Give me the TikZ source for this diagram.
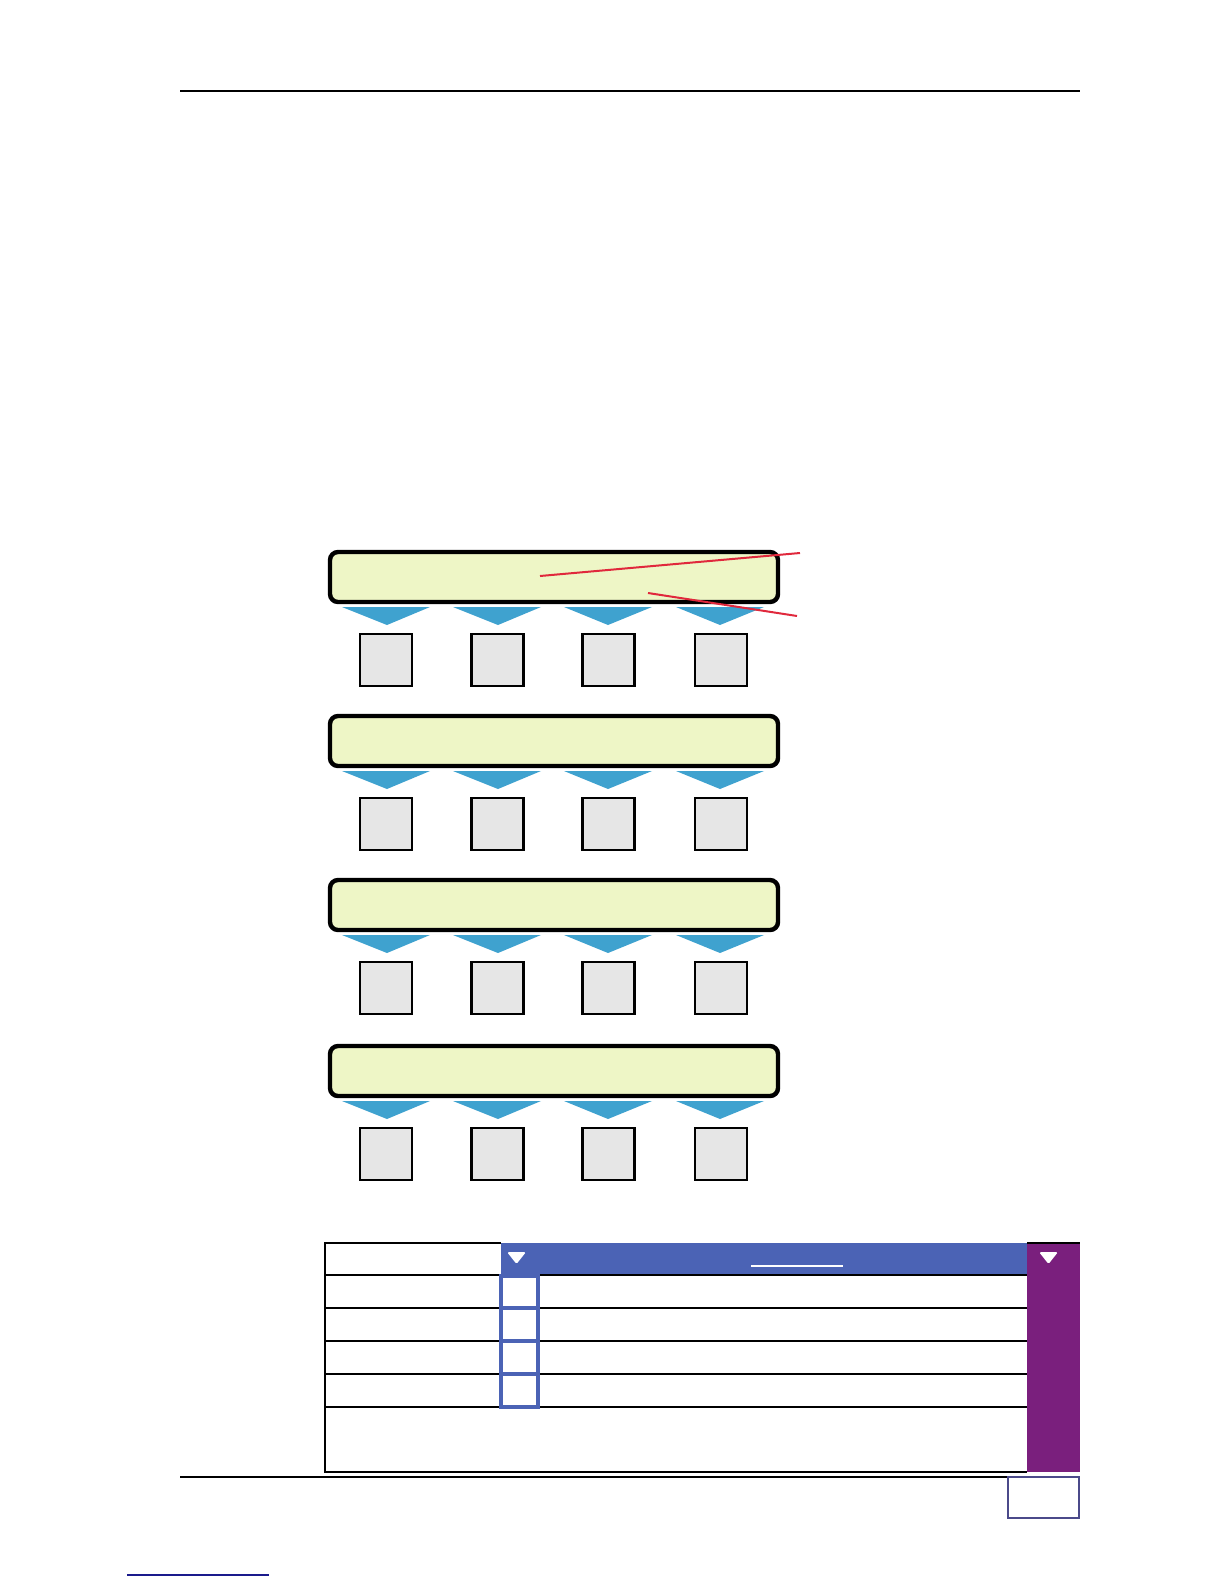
\documentclass[tikz,border=0pt]{standalone}
\usetikzlibrary{calc}
\definecolor{barfill}{HTML}{EEF6C6}
\definecolor{trifill}{HTML}{3FA2CF}
\definecolor{boxfill}{HTML}{E6E6E6}
\definecolor{hdrblue}{HTML}{4B63B5}
\definecolor{purp}{HTML}{7A1F7D}
\definecolor{redl}{HTML}{E0283C}
\definecolor{linkblue}{HTML}{1A1A8C}
\definecolor{pagebox}{HTML}{4B4A8A}
\begin{document}
\begin{tikzpicture}[x=0.5pt,y=-0.5pt,
  barbox/.style={draw=black,line width=2.2pt,fill=barfill,rounded corners=4pt,
    minimum width=224pt,minimum height=25pt,inner sep=0pt,outer sep=0pt},
  smallbox/.style={draw=black,line width=1.2pt,fill=boxfill,
    minimum width=26pt,minimum height=26pt,inner sep=0pt,outer sep=0pt},
  tri/.style={fill=trifill},
  redline/.style={draw=redl,line width=1pt},
  rowline/.style={draw=black,line width=0.6pt},
  bluecell/.style={draw=hdrblue,line width=1.6pt}]
\useasboundingbox (0,0) rectangle (1224,1584);
% header / footer rules
\coordinate (hl) at (180,91);
\coordinate (hr) at (1080,91);
\draw[line width=1pt] (hl) -- (hr);
\coordinate (fl) at (180,1477);
\coordinate (fr) at (1080,1477);
\draw[line width=0.6pt] (fl) -- (fr);
% rows of bars, triangles, boxes
\foreach \r/\t in {1/551,2/715,3/879,4/1045}{
  \node[barbox] (bar\r) at (554,\t+26) {};
  \foreach \i/\a/\b/\c in {1/342/430/387,2/453/541/498,3/564/652/608,4/676/764/720}{
    \fill[tri] (\a,\t+56) -- (\b,\t+56) -- (\c,\t+74) -- cycle;
  }
  \foreach \i/\cx in {1/386,2/497.5,3/608.5,4/721}{
    \node[smallbox] (box\r-\i) at (\cx,\t+109) {};
  }
}
% red callout lines
\coordinate (r1a) at (540,576);
\coordinate (r1b) at (800,553);
\coordinate (r2a) at (648,593);
\coordinate (r2b) at (797,616);
\draw[redline] (r1a) -- (r1b);
\draw[redline] (r2a) -- (r2b);
% table
\fill[hdrblue] (501,1243) rectangle (1027,1276);
\fill[purp] (1027,1243) rectangle (1080,1472);
\draw[white,line width=0.7pt] (751,1266) -- (843,1266);
\fill[white,rounded corners=0.8pt] (507,1252) -- (526,1252) -- (516.5,1264) -- cycle;
\fill[white,rounded corners=0.8pt] (1039,1252) -- (1058,1252) -- (1048.5,1264) -- cycle;
\draw[black,line width=0.7pt] (501,1243) -- (325,1243) -- (325,1472) -- (1027,1472);
\draw[black,line width=0.6pt] (1027,1243) -- (1080,1243);
\foreach \y in {1275,1308,1341,1374,1407}{
  \draw[rowline] (325,\y) -- (501,\y);
  \draw[rowline] (538,\y) -- (1027,\y);
}
\foreach \ya/\yb in {1276/1308,1308/1341,1341/1374,1374/1407}{
  \draw[bluecell] (501,\ya) rectangle (538,\yb);
}
% page number box
\draw[pagebox,line width=0.6pt] (1008,1477) rectangle (1079,1518);
% link underline
\draw[linkblue,line width=0.7pt] (127,1575) -- (269,1575);
\end{tikzpicture}
\end{document}
